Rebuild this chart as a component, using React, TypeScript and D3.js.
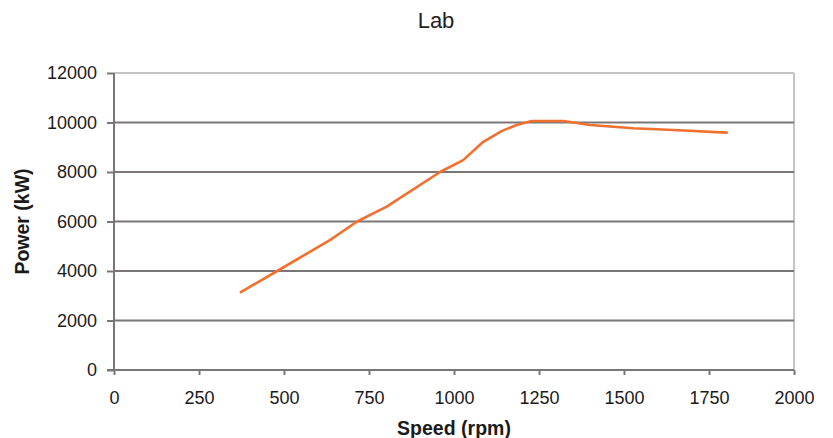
import React, { useEffect, useRef } from 'react';
import * as d3 from 'd3';

// Data
const speeds = [373, 480, 635, 715, 802, 959, 1027, 1086, 1140, 1184, 1228, 1322, 1400, 1527, 1645, 1802];
const powers = [3150, 4000, 5250, 6000, 6600, 8000, 8480, 9220, 9650, 9900, 10060, 10060, 9900, 9765, 9700, 9590];
const xTicks = [0, 250, 500, 750, 1000, 1250, 1500, 1750, 2000];
const yTicks = [0, 2000, 4000, 6000, 8000, 10000, 12000];

const App: React.FC = () => {
  const svgRef = useRef<SVGSVGElement>(null);

  const width = 833;
  const height = 438;
  const margin = { left: 114, right: 39, top: 73, bottom: 68 };

  useEffect(() => {
    if (!svgRef.current) return;
    const svg = d3.select(svgRef.current);
    svg.selectAll('*').remove();

    const x = d3.scaleLinear().domain([0, 2000]).range([margin.left, width - margin.right]);
    const y = d3.scaleLinear().domain([0, 12000]).range([height - margin.bottom, margin.top]);

    const font = '"Liberation Sans", Arial, sans-serif';

    // Title
    svg.append('text')
      .attr('x', 436)
      .attr('y', 28)
      .attr('text-anchor', 'middle')
      .style('font-family', '"Liberation Sans Narrow", "Liberation Sans", sans-serif')
      .style('font-size', '22px')
      .style('fill', '#222')
      .text('Lab');

    // Plot border (top and right, light gray)
    svg.append('line')
      .attr('x1', x(0)).attr('x2', x(2000))
      .attr('y1', y(12000)).attr('y2', y(12000))
      .style('stroke', '#c4c4c4').style('stroke-width', 2);
    svg.append('line')
      .attr('x1', x(2000)).attr('x2', x(2000))
      .attr('y1', y(12000)).attr('y2', y(0))
      .style('stroke', '#c4c4c4').style('stroke-width', 2);

    // Gridlines
    svg.selectAll('.grid')
      .data(yTicks.filter(d => d > 0 && d < 12000))
      .enter()
      .append('line')
      .attr('class', 'grid')
      .attr('x1', x(0)).attr('x2', x(2000))
      .attr('y1', d => y(d)).attr('y2', d => y(d))
      .style('stroke', '#7a7676').style('stroke-width', 2);

    // Axes
    const yAxis = d3.axisLeft(y).tickValues(yTicks).tickSize(7).tickPadding(10).tickFormat(d => String(d));
    const gy = svg.append('g').attr('transform', `translate(${x(0)},0)`).call(yAxis);
    const xAxis = d3.axisBottom(x).tickValues(xTicks).tickSize(5).tickPadding(16).tickFormat(d => String(d));
    const gx = svg.append('g').attr('transform', `translate(0,${y(0)})`).call(xAxis);

    [gx, gy].forEach(g => {
      g.select('.domain').style('stroke', '#7a7676').style('stroke-width', 2);
      g.selectAll('.tick line').style('stroke', '#7a7676').style('stroke-width', 2);
      g.selectAll('.tick text')
        .style('font-family', font)
        .style('font-size', '18px')
        .style('fill', '#1a1a1a');
    });
    gy.select('.domain').attr('d', `M0,${y(12000)}V${y(0)}`);
    gx.select('.domain').attr('d', `M${x(0) - 7},0H${x(2000)}`);

    // Axis titles
    svg.append('text')
      .attr('x', (x(0) + x(2000)) / 2)
      .attr('y', 435)
      .attr('text-anchor', 'middle')
      .style('font-family', font)
      .style('font-size', '19.5px')
      .style('font-weight', 'bold')
      .style('fill', '#1a1a1a')
      .text('Speed (rpm)');

    svg.append('text')
      .attr('transform', `translate(29,${(y(0) + y(12000)) / 2}) rotate(-90)`)
      .attr('text-anchor', 'middle')
      .style('font-family', font)
      .style('font-size', '19.5px')
      .style('font-weight', 'bold')
      .style('fill', '#1a1a1a')
      .text('Power (kW)');

    // Series
    const pts: [number, number][] = speeds.map((s, i) => [s, powers[i]]);
    const line = d3.line<[number, number]>()
      .x(d => x(d[0]))
      .y(d => y(d[1]));

    svg.append('path')
      .datum(pts)
      .attr('d', line)
      .style('fill', 'none')
      .style('stroke', '#f2702e')
      .style('stroke-width', 2.6)
      .style('stroke-linejoin', 'round')
      .style('stroke-linecap', 'round');
  }, []);

  return (
    <svg
      ref={svgRef}
      width={width}
      height={height}
      style={{ position: 'absolute', left: 0, top: 0, background: '#fff' }}
    />
  );
};

export default App;
